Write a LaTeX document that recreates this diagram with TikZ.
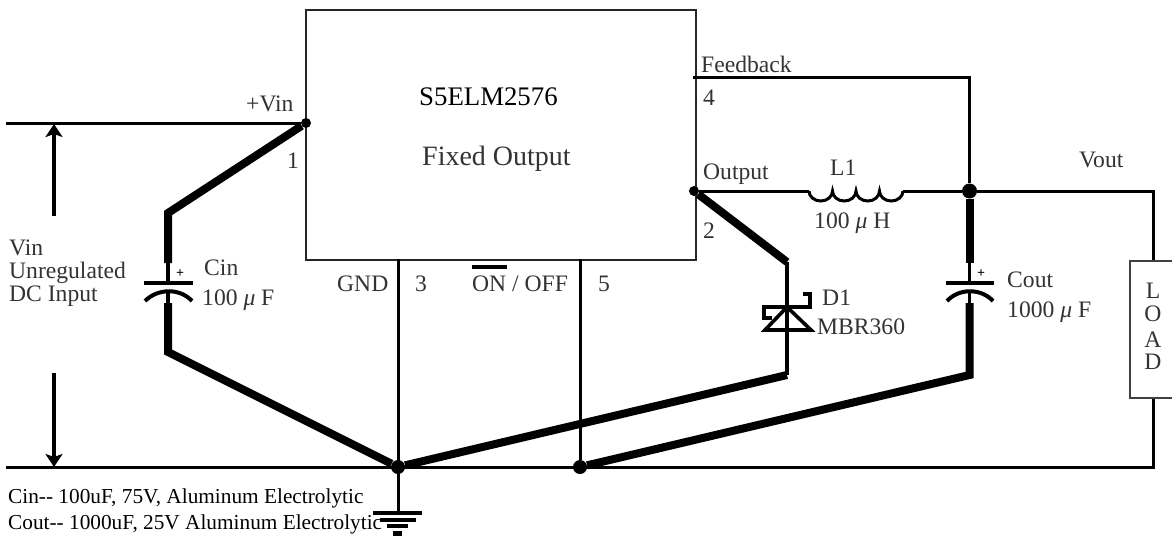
\documentclass[tikz,border=0pt]{standalone}
\usepackage{fontspec}
\setmainfont{Liberation Serif}
\usetikzlibrary{arrows.meta}
\tikzset{
 thin wire/.style={line width=3pt,black},
 thick wire/.style={line width=8pt,black,line join=miter},
 mid wire/.style={line width=3.6pt,black},
 plate/.style={line width=4pt,black},
 dimline/.style={line width=3.6pt,black,-{Stealth[length=13pt,width=17pt,inset=3pt]}},
 lab/.style={anchor=base west,inner sep=0pt,font=\fontsize{23.6}{26}\selectfont,text=black!80},
 note/.style={anchor=base west,inner sep=0pt,font=\fontsize{21.3}{23}\selectfont,text=black},
 dot/.style={circle,fill=black,inner sep=0pt,minimum size=#1},
 chip/.style={draw=black!85,line width=2pt,fill=white,minimum width=390pt,minimum height=250pt,inner sep=0pt,anchor=north west},
 loadbox/.style={draw=black!75,line width=1.6pt,minimum width=48pt,minimum height=137pt,inner sep=0pt,anchor=north west}
}
\newcommand{\mumark}{{\itshape μ}}
\begin{document}
\begin{tikzpicture}[x=1pt,y=-1pt]
\useasboundingbox (0,0) rectangle (1172,536);
\fill[white] (0,0) rectangle (1172,536);
% nodes
\node[chip] (ic) at (305,9) {};
\node[loadbox] (load) at (1129,260) {};
\node[dot=10pt] (nvin) at (306,123) {};
\node[dot=10pt] (nout) at (694,191) {};
\node[dot=15pt] (nfb) at (969.5,191) {};
\node[dot=14pt] (ngnd) at (398,467) {};
\node[dot=14pt] (ngb) at (580,467) {};
\coordinate (vl) at (6,123);
\coordinate (gl) at (6,467);
\coordinate (gr) at (1153,467);
\coordinate (cinA) at (168,213);
\coordinate (cinB) at (168,263);
\coordinate (cinC) at (168,303);
\coordinate (cinD) at (168,352);
\coordinate (coutB) at (969.5,263);
\coordinate (coutC) at (969.5,303);
\coordinate (coutD) at (969.5,375);
\coordinate (dA) at (787,262);
\coordinate (dB) at (787,375);
\coordinate (fbL) at (693,77);
\coordinate (fbR) at (969.5,77);
\coordinate (indL) at (809,191);
\coordinate (indR) at (903,191);
\coordinate (g3) at (398,259);
\coordinate (g5) at (580,259);
\coordinate (gs) at (398,513);
\coordinate (arT) at (54,124);
\coordinate (arTe) at (54,216);
\coordinate (arB) at (54,467);
\coordinate (arBe) at (54,373);
% thin wires
\draw[thin wire] (vl) -- (nvin);
\draw[thin wire] (gl) -- (gr) -- (load.south -| gr);
\draw[thin wire] (fbL) -- (fbR) -- (nfb);
\draw[thin wire] (nout) -- (indL);
\draw[thin wire] (indR) -- (nfb) -- (1153,191) -- (1153,260);
\draw[thin wire] (g3) -- (gs);
\draw[thin wire] (g5) -- (ngb);
% inductor
\draw[line width=3pt,black] (indL) arc[start angle=180,end angle=0,x radius=11.75,y radius=10]
  arc[start angle=180,end angle=0,x radius=11.75,y radius=10]
  arc[start angle=180,end angle=0,x radius=11.75,y radius=10]
  arc[start angle=180,end angle=0,x radius=11.75,y radius=10];
% thick wires
\draw[thick wire] (nvin) -- (cinA) -- (cinB);
\draw[thick wire] (cinC) -- (cinD) -- (ngnd);
\draw[thick wire] (nfb) -- (coutB);
\draw[thick wire] (coutC) -- (coutD) -- (ngb);
\draw[thick wire] (nout) -- (dA);
\draw[thick wire] (dB) -- (ngnd);
% capacitors
\draw[mid wire] (cinB) -- (168,283);
\draw[mid wire] (168,291) -- (cinC);
\draw[plate] (144,283) -- (193,283);
\draw[plate] (145,301) .. controls (158,288) and (180,288) .. (192,301);
\draw[mid wire] (coutB) -- (969.5,283);
\draw[mid wire] (969.5,291) -- (coutC);
\draw[plate] (946,283) -- (994,283);
\draw[plate] (947,301) .. controls (959,288) and (981,288) .. (993,301);
\node[inner sep=0pt,font=\fontsize{14}{14}\selectfont\bfseries] (pcin) at (180,274) {+};
\node[inner sep=0pt,font=\fontsize{14}{14}\selectfont\bfseries] (pcout) at (981,274) {+};
% diode
\draw[mid wire] (dA) -- (dB);
\draw[mid wire,line join=miter] (787,307) -- (765,330) -- (811,330) -- cycle;
\draw[mid wire,line join=miter] (772,318) -- (764,318) -- (764,307) -- (810,307) -- (810,294) -- (803,294);
% arrows
\draw[dimline] (arTe) -- (arT);
\draw[dimline] (arBe) -- (arB);
% ground symbol
\draw[plate] (373,513) -- (422,513);
\draw[plate] (380,520) -- (416,520);
\draw[plate] (387,526) -- (408,526);
\draw[plate,line width=5pt] (393,533) -- (402,533);
% overbar
\draw[line width=3.6pt] (472,267) -- (507,267);
% labels
\node[lab] (t1) at (246,111) {+Vin};
\node[lab] (t2) at (287,168) {1};
\node[lab,font=\fontsize{26.8}{28}\selectfont,text=black] (t3) at (419,105) {S5ELM2576};
\node[lab,font=\fontsize{28}{30}\selectfont] (t4) at (422,165) {Fixed Output};
\node[lab] (t5) at (701,72) {Feedback};
\node[lab] (t6) at (703,105) {4};
\node[lab] (t7) at (703,179) {Output};
\node[lab] (t8) at (703,238) {2};
\node[lab] (t9) at (830,175) {L1};
\node[lab] (t10) at (814,228) {100 \mumark\ H};
\node[lab] (t11) at (1079,167) {Vout};
\node[lab] (t12) at (204,275) {Cin};
\node[lab] (t13) at (202,305) {100 \mumark\ F};
\node[lab] (t14) at (337,291) {GND};
\node[lab] (t15) at (415,291) {3};
\node[lab] (t16) at (472,291) {ON / OFF};
\node[lab] (t17) at (598,291) {5};
\node[lab] (t18) at (822,305) {D1};
\node[lab] (t19) at (817,334) {MBR360};
\node[lab] (t20) at (1007,287) {Cout};
\node[lab] (t21) at (1007,317) {1000 \mumark\ F};
\node[lab] (t22) at (9,255) {Vin};
\node[lab] (t23) at (9,278) {Unregulated};
\node[lab] (t24) at (9,301) {DC Input};
\node[lab,anchor=base] (l1) at (1153,298) {L};
\node[lab,anchor=base] (l2) at (1153,321) {O};
\node[lab,anchor=base] (l3) at (1153,347) {A};
\node[lab,anchor=base] (l4) at (1153,369) {D};
\node[note] (n1) at (8,503) {Cin-{}- 100uF, 75V, Aluminum Electrolytic};
\node[note] (n2) at (8,529) {Cout-{}- 1000uF, 25V Aluminum Electrolytic};
\end{tikzpicture}
\end{document}
